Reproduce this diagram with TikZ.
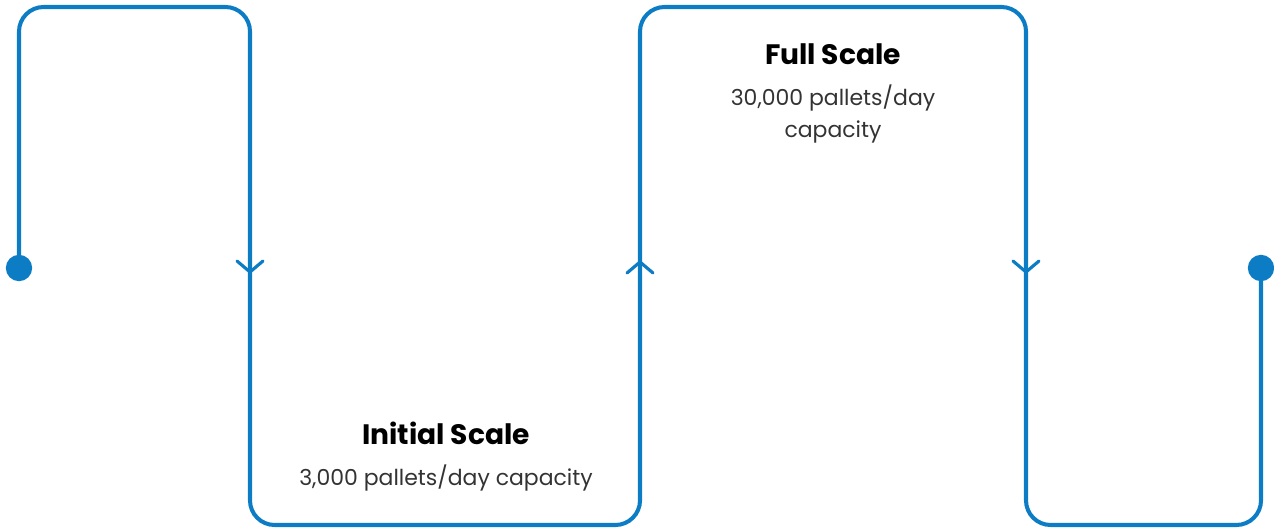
\documentclass[tikz,border=0pt]{standalone}
\usepackage{fontspec}
\setmainfont{Poppins}
\usetikzlibrary{positioning}
\definecolor{lineblue}{RGB}{12,124,196}
\definecolor{textgray}{RGB}{51,51,51}

\begin{document}
\begin{tikzpicture}[x=0.02cm,y=-0.02cm]
    \tikzset{
      flowline/.style={draw=lineblue,line width=2.3pt,rounded corners=14pt},
      chevron/.style={draw=lineblue,line width=1.8pt,line cap=round,line join=miter},
      enddot/.style={circle,fill=lineblue,inner sep=0pt,minimum size=15pt},
      titlenode/.style={font=\fontsize{16}{19}\selectfont\bfseries,text=black,inner sep=0pt},
      infonode/.style={font=\fontsize{12.5}{18.5}\selectfont,text=textgray,align=center,inner sep=0pt}
    }
    \useasboundingbox (0,0) rectangle (1274,530);

    \node[enddot](start) at (19,268){};
    \node[enddot](finish) at (1261,268){};
    \coordinate (c1) at (19,7);
    \coordinate (c2) at (250,7);
    \coordinate (c3) at (250,525);
    \coordinate (c4) at (640,525);
    \coordinate (c5) at (640,7);
    \coordinate (c6) at (1026,7);
    \coordinate (c7) at (1026,525);
    \coordinate (c8) at (1261,525);

    \draw[flowline](start.center) -- (c1) -- (c2) -- (c3) -- (c4) -- (c5) -- (c6) -- (c7) -- (c8) -- (finish.center);

    \coordinate (down1) at (250,272);
    \coordinate (up1) at (640,262);
    \coordinate (down2) at (1026,272);
    \draw[chevron](down1) ++(-13,-11) -- (down1) -- ++(13,-11);
    \draw[chevron](up1) ++(-13,11) -- (up1) -- ++(13,11);
    \draw[chevron](down2) ++(-13,-11) -- (down2) -- ++(13,-11);

    \node[titlenode](initial) at (446,433){Initial Scale};
    \node[infonode,below=11pt of initial](initialcap){3,000 pallets/day capacity};
    \node[titlenode](full) at (833,54){Full Scale};
    \node[infonode,below=11pt of full](fullcap){30,000 pallets/day\\capacity};
\end{tikzpicture}
\end{document}
